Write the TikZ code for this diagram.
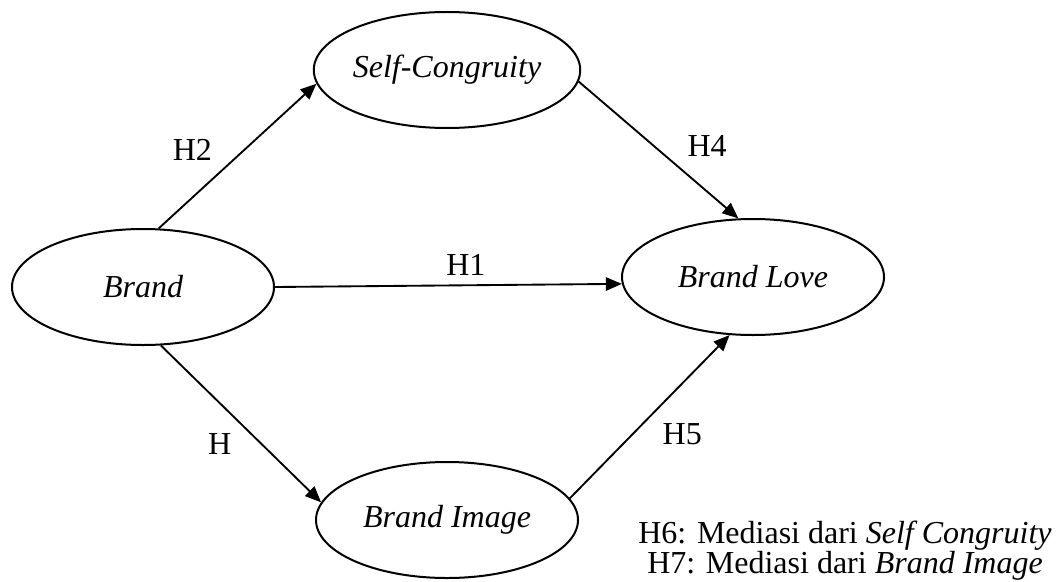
\documentclass[tikz,border=0pt]{standalone}
\usepackage{fontspec}
\setmainfont{Liberation Serif}
\usepackage{tikz}
\usetikzlibrary{shapes.geometric, arrows.meta, positioning}

\begin{document}
\begin{tikzpicture}[
  x=0.375pt, y=-0.375pt,
  construct/.style={ellipse, draw, line width=0.75pt, minimum width=98.25pt, minimum height=43.5pt, inner sep=0pt, font=\fontsize{12}{14}\selectfont\itshape},
  effect/.style={-{Triangle[length=6pt, width=5pt]}, line width=0.7pt},
  hyp/.style={font=\fontsize{12}{14}\selectfont}
]
  \useasboundingbox (0,0) rectangle (1057,581);

  \node[construct] (brand) at (143,287) {Brand};
  \node[construct] (selfc) at (447,70) {Self-Congruity};
  \node[construct] (love) at (753,277) {Brand Love};
  \node[construct] (image) at (447,520) {Brand Image};

  \draw[effect] (brand.75) -- node[pos=.4, above left, hyp] (h2) {H2} (selfc.186);
  \draw[effect] (selfc.-5) -- node[pos=.62, above right, hyp] (h4) {H4} (love.104);
  \draw[effect] (brand.east) -- node[pos=.55, above, hyp] (h1) {H1} (love.183);
  \draw[effect] (brand.-73) -- node[pos=.5, below left, hyp] (h3) {H} (image.172);
  \draw[effect] (image.10) -- node[pos=.52, below right, hyp] (h5) {H5} (love.248);

  \node[align=center, inner sep=0pt, font=\fontsize{12}{11.25}\selectfont] (note) at (845,551) {H6: Mediasi dari \textit{Self Congruity}\\H7: Mediasi dari \textit{Brand Image}};
\end{tikzpicture}
\end{document}
